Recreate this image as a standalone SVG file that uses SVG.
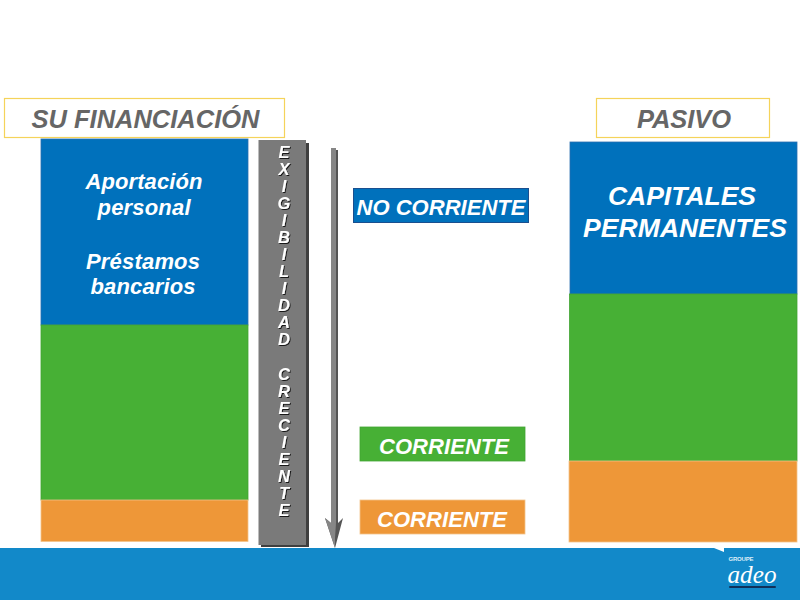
<svg xmlns="http://www.w3.org/2000/svg" width="800" height="600" viewBox="0 0 800 600">
<defs>
<filter id="ts" x="-30%" y="-5%" width="170%" height="110%"><feDropShadow dx="1" dy="1" stdDeviation="0.3" flood-color="#111" flood-opacity="0.9"/></filter>
</defs>
<style>
text{font-family:"Liberation Sans",Arial,sans-serif;font-style:italic;font-weight:bold;text-anchor:middle}
.w{fill:#fff}
.t{fill:#666;font-size:25.500px}
.h{fill:#fff;stroke:#f5d35a;stroke-width:1.2}
.b{fill:#0071bc;stroke:#2a6fb0;stroke-width:.8}
.g{fill:#47b035;stroke:#43a533;stroke-width:.8}
.o{fill:#ee9738;stroke:#f3c48a;stroke-width:.8}
.l{font-size:22px}
.s{font-size:22px}
.e{font-size:16.500px;fill:#fff;filter:url(#ts)}
.c{font-size:26.500px}
</style>
<rect width="800" height="600" fill="#fff"/>
<g id="footer">
<rect x="0" y="548" width="800" height="52" fill="#1289c9"/>
<path d="M714 548L724 548L724 552Z" fill="#fff"/>
<text x="741" y="561" style="font-size:6px;font-style:normal" fill="#dfeef8" textLength="25">GROUPE</text>
<text x="752" y="583" style="font-family:'Liberation Serif',serif;font-size:25px;font-weight:normal" fill="#fff" textLength="49" lengthAdjust="spacingAndGlyphs">adeo</text>
<rect x="729" y="586" width="47" height="2" rx="1" fill="#10305a"/>
</g>
<g id="title-left">
<rect class="h" x="4.500" y="98.500" width="280" height="39"/>
<text class="t" x="145.500" y="128" textLength="228">SU FINANCIACIÓN</text>
</g>
<g id="title-right">
<rect class="h" x="596.500" y="98.500" width="173" height="39"/>
<text class="t" x="684" y="128" textLength="94">PASIVO</text>
</g>
<g id="left-blue">
<rect class="b" x="41" y="139" width="207" height="186"/>
<text class="w l" x="144" y="189" textLength="117">Aportación</text>
<text class="w l" x="144" y="215" textLength="93">personal</text>
<text class="w l" x="143" y="269" textLength="114">Préstamos</text>
<text class="w l" x="143" y="294" textLength="105">bancarios</text>
</g>
<g id="left-green"><rect class="g" x="41" y="325" width="207" height="175"/></g>
<g id="left-orange"><rect class="o" x="41" y="500" width="207" height="41.500"/></g>
<g id="exigibilidad">
<rect x="261" y="143" width="48" height="404" fill="#3f3f3f"/>
<rect x="258.500" y="140" width="47.500" height="405" fill="#7a7a7a"/>
<text class="e"><tspan x="284" y="158">E</tspan><tspan x="284" y="175">X</tspan><tspan x="284" y="192">I</tspan><tspan x="284" y="209">G</tspan><tspan x="284" y="226">I</tspan><tspan x="284" y="243">B</tspan><tspan x="284" y="260">I</tspan><tspan x="284" y="277">L</tspan><tspan x="284" y="294">I</tspan><tspan x="284" y="311">D</tspan><tspan x="284" y="328">A</tspan><tspan x="284" y="345">D</tspan><tspan x="284" y="380">C</tspan><tspan x="284" y="397">R</tspan><tspan x="284" y="414">E</tspan><tspan x="284" y="431">C</tspan><tspan x="284" y="448">I</tspan><tspan x="284" y="465">E</tspan><tspan x="284" y="482">N</tspan><tspan x="284" y="499">T</tspan><tspan x="284" y="516">E</tspan></text>
</g>
<g id="connectors">
<path d="M331 148L336 150H338V523L343 518L335 548L325 518L331 523Z" fill="#555"/>
<path d="M331 148H336V523L335 538V548L325 518L331 523Z" fill="#868686"/>
</g>
<g id="label-no-corriente">
<rect x="353.500" y="188.500" width="175" height="34" fill="#0071bc" stroke="#1a4f8f"/>
<text class="w s" x="441" y="215" textLength="169">NO CORRIENTE</text>
</g>
<g id="label-corriente-green">
<rect class="g" x="360" y="427" width="165" height="34"/>
<text class="w s" x="444" y="454" textLength="130">CORRIENTE</text>
</g>
<g id="label-corriente-orange">
<rect class="o" x="360" y="500" width="165" height="34"/>
<text class="w s" x="442" y="527" textLength="130">CORRIENTE</text>
</g>
<g id="right-blue">
<rect class="b" x="570" y="142" width="227" height="152"/>
<text class="w c" x="682" y="205" textLength="148">CAPITALES</text>
<text class="w c" x="685" y="237" textLength="204">PERMANENTES</text>
</g>
<g id="right-green"><rect class="g" x="569.500" y="294" width="227.500" height="167"/></g>
<g id="right-orange"><rect class="o" x="569" y="461" width="228" height="81"/></g>
</svg>
